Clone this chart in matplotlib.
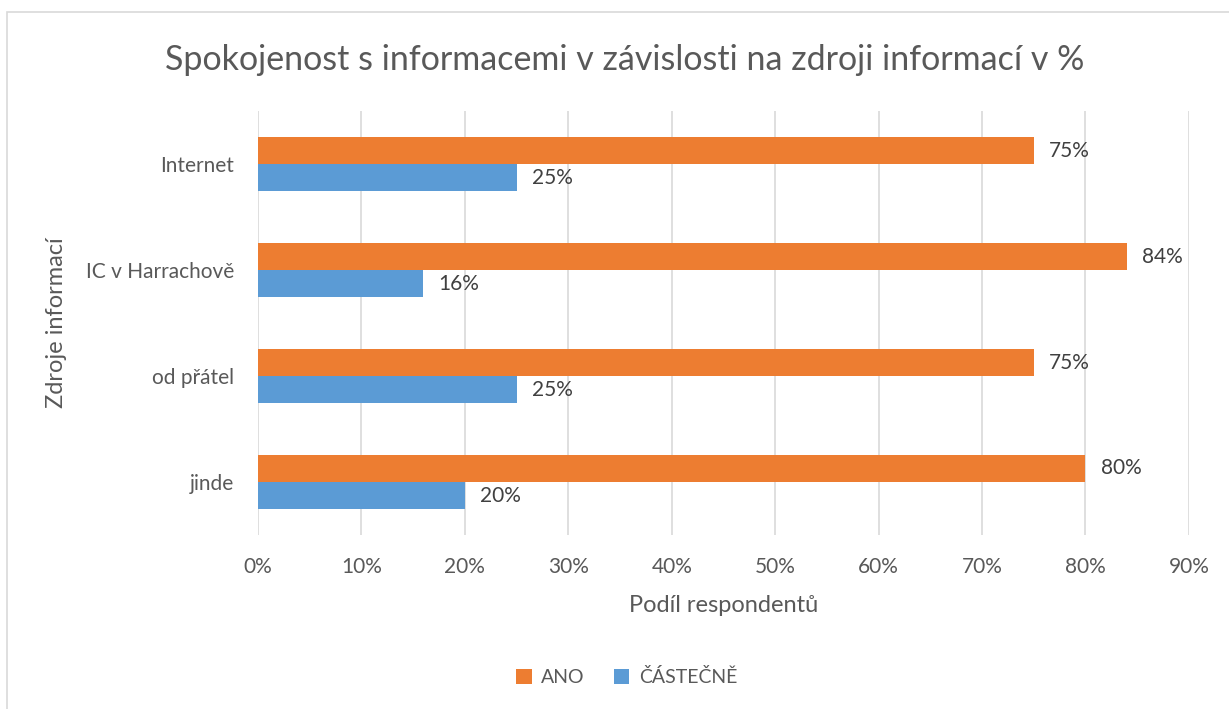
import numpy as np
import matplotlib.pyplot as plt
from matplotlib.patches import Rectangle

plt.rcParams['font.family'] = ['Lato', 'DejaVu Sans']

categories = ['Internet', 'IC v Harrachově', 'od přátel', 'jinde']
ano = [75, 84, 75, 80]
castecne = [25, 16, 25, 20]
ticks = [0, 10, 20, 30, 40, 50, 60, 70, 80, 90]

text_col = '#595959'
fig = plt.figure(figsize=(12.29, 7.09), dpi=100)
ax = fig.add_axes([0.2099, 0.2454, 0.7575, 0.598])

y = np.arange(len(categories))
h = 0.255
b1 = ax.barh(y - h / 2, ano, height=h, color='#ED7D31', label='ANO', zorder=3)
b2 = ax.barh(y + h / 2, castecne, height=h, color='#5B9BD5', label='ČÁSTEČNĚ', zorder=3)
for bars in (b1, b2):
    ax.bar_label(bars, labels=[f'{v}%' for v in bars.datavalues], padding=11,
                 fontsize=15, color='#404040')

ax.set_ylim(len(categories) - 0.5, -0.5)
ax.set_xlim(0, 90)
ax.set_xticks(ticks)
ax.set_xticklabels([f'{t}%' for t in ticks])
ax.set_yticks(y)
ax.set_yticklabels(categories)
ax.tick_params(length=0, labelsize=15, labelcolor=text_col)
ax.tick_params(axis='x', pad=16)
ax.tick_params(axis='y', pad=17)
ax.grid(axis='x', color='#D9D9D9', linewidth=1.2, zorder=0)
for s in ax.spines.values():
    s.set_visible(False)

ax.set_xlabel('Podíl respondentů', fontsize=17, color=text_col, labelpad=13)
ax.set_ylabel('Zdroje informací', fontsize=17, color=text_col, labelpad=14)
fig.text(0.508, 0.915, 'Spokojenost s informacemi v závislosti na zdroji informací v %',
         ha='center', va='center', fontsize=24.5, color=text_col)
fig.legend(loc='center', bbox_to_anchor=(0.51, 0.045), ncol=2, frameon=False,
           fontsize=14, labelcolor=text_col, handlelength=0.8, handleheight=0.8,
           columnspacing=1.5, handletextpad=0.5)

fig.patches.append(Rectangle((7 / 1229, -0.01), 1.1, 1 - 12 / 709 + 0.01,
                             transform=fig.transFigure, fill=False,
                             edgecolor='#D9D9D9', linewidth=1.2))

fig.savefig('out.png')
